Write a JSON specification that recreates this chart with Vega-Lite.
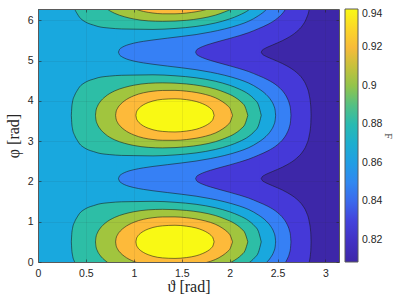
{
"$schema":"https://vega.github.io/schema/vega-lite/v6.json",
"width":301,"height":253,
"autosize":{"type":"none"},
"padding":{"left":38,"top":9,"right":70,"bottom":41},
"background":"white",
"config":{"view":{"fill":"#3D27A8","stroke":null},"font":"Liberation Sans"},
"datasets":{"f":[
{"g":"1r","k":"r","v":0.8273,"t":0,"lo":-0.1,"hi":6.4},{"g":"1r","k":"r","v":0.8273,"t":2.33,"lo":-0.1,"hi":6.4},
{"g":"1a","k":"e","v":0.8273,"t":2.31,"lo":-1.071,"hi":2.071},
{"g":"1a","k":"c","v":0.8273,"t":2.33,"lo":-1.071,"hi":2.071},
{"g":"1a","k":"c","v":0.8273,"t":2.34,"lo":-1.026,"hi":2.026},
{"g":"1a","k":"c","v":0.8273,"t":2.36,"lo":-0.991,"hi":1.991},
{"g":"1a","k":"c","v":0.8273,"t":2.4,"lo":-0.943,"hi":1.943},
{"g":"1a","k":"c","v":0.8273,"t":2.45,"lo":-0.892,"hi":1.892},
{"g":"1a","k":"c","v":0.8273,"t":2.5,"lo":-0.842,"hi":1.842},
{"g":"1a","k":"c","v":0.8273,"t":2.6,"lo":-0.725,"hi":1.725},
{"g":"1a","k":"c","v":0.8273,"t":2.7,"lo":-0.562,"hi":1.562},
{"g":"1a","k":"c","v":0.8273,"t":2.76,"lo":-0.411,"hi":1.411},
{"g":"1a","k":"c","v":0.8273,"t":2.8,"lo":-0.243,"hi":1.243},
{"g":"1a","k":"c","v":0.8273,"t":2.83,"lo":-0.013,"hi":1.013},
{"g":"1a","k":"c","v":0.8273,"t":2.845,"lo":0.228,"hi":0.772},
{"g":"1a","k":"c","v":0.8273,"t":2.848,"lo":0.322,"hi":0.678},
{"g":"1a","k":"c","v":0.8273,"t":2.85,"lo":0.5,"hi":0.5},
{"g":"1b","k":"e","v":0.8273,"t":2.31,"lo":2.071,"hi":5.212},
{"g":"1b","k":"c","v":0.8273,"t":2.33,"lo":2.071,"hi":5.212},
{"g":"1b","k":"c","v":0.8273,"t":2.34,"lo":2.116,"hi":5.167},
{"g":"1b","k":"c","v":0.8273,"t":2.36,"lo":2.151,"hi":5.132},
{"g":"1b","k":"c","v":0.8273,"t":2.4,"lo":2.199,"hi":5.084},
{"g":"1b","k":"c","v":0.8273,"t":2.45,"lo":2.25,"hi":5.033},
{"g":"1b","k":"c","v":0.8273,"t":2.5,"lo":2.3,"hi":4.983},
{"g":"1b","k":"c","v":0.8273,"t":2.6,"lo":2.416,"hi":4.867},
{"g":"1b","k":"c","v":0.8273,"t":2.7,"lo":2.579,"hi":4.704},
{"g":"1b","k":"c","v":0.8273,"t":2.76,"lo":2.731,"hi":4.553},
{"g":"1b","k":"c","v":0.8273,"t":2.8,"lo":2.899,"hi":4.384},
{"g":"1b","k":"c","v":0.8273,"t":2.83,"lo":3.129,"hi":4.155},
{"g":"1b","k":"c","v":0.8273,"t":2.845,"lo":3.369,"hi":3.914},
{"g":"1b","k":"c","v":0.8273,"t":2.848,"lo":3.464,"hi":3.819},
{"g":"1b","k":"c","v":0.8273,"t":2.85,"lo":3.642,"hi":3.642},
{"g":"1c","k":"e","v":0.8273,"t":2.31,"lo":5.212,"hi":8.354},
{"g":"1c","k":"c","v":0.8273,"t":2.33,"lo":5.212,"hi":8.354},
{"g":"1c","k":"c","v":0.8273,"t":2.34,"lo":5.258,"hi":8.309},
{"g":"1c","k":"c","v":0.8273,"t":2.36,"lo":5.292,"hi":8.274},
{"g":"1c","k":"c","v":0.8273,"t":2.4,"lo":5.34,"hi":8.226},
{"g":"1c","k":"c","v":0.8273,"t":2.45,"lo":5.391,"hi":8.175},
{"g":"1c","k":"c","v":0.8273,"t":2.5,"lo":5.442,"hi":8.125},
{"g":"1c","k":"c","v":0.8273,"t":2.6,"lo":5.558,"hi":8.008},
{"g":"1c","k":"c","v":0.8273,"t":2.7,"lo":5.721,"hi":7.846},
{"g":"1c","k":"c","v":0.8273,"t":2.76,"lo":5.872,"hi":7.694},
{"g":"1c","k":"c","v":0.8273,"t":2.8,"lo":6.04,"hi":7.526},
{"g":"1c","k":"c","v":0.8273,"t":2.83,"lo":6.27,"hi":7.296},
{"g":"1c","k":"c","v":0.8273,"t":2.845,"lo":6.511,"hi":7.056},
{"g":"1c","k":"c","v":0.8273,"t":2.848,"lo":6.606,"hi":6.961},
{"g":"1c","k":"c","v":0.8273,"t":2.85,"lo":6.783,"hi":6.783},
{"g":"2r","k":"r","v":0.8461,"t":0,"lo":-0.1,"hi":6.4},{"g":"2r","k":"r","v":0.8461,"t":1.645,"lo":-0.1,"hi":6.4},
{"g":"2a","k":"e","v":0.8461,"t":1.625,"lo":-1.071,"hi":2.071},
{"g":"2a","k":"c","v":0.8461,"t":1.645,"lo":-1.071,"hi":2.071},
{"g":"2a","k":"c","v":0.8461,"t":1.655,"lo":-1.02,"hi":2.02},
{"g":"2a","k":"c","v":0.8461,"t":1.68,"lo":-0.975,"hi":1.975},
{"g":"2a","k":"c","v":0.8461,"t":1.72,"lo":-0.93,"hi":1.93},
{"g":"2a","k":"c","v":0.8461,"t":1.8,"lo":-0.864,"hi":1.864},
{"g":"2a","k":"c","v":0.8461,"t":1.9,"lo":-0.796,"hi":1.796},
{"g":"2a","k":"c","v":0.8461,"t":2.0,"lo":-0.731,"hi":1.731},
{"g":"2a","k":"c","v":0.8461,"t":2.1,"lo":-0.663,"hi":1.663},
{"g":"2a","k":"c","v":0.8461,"t":2.2,"lo":-0.587,"hi":1.587},
{"g":"2a","k":"c","v":0.8461,"t":2.3,"lo":-0.489,"hi":1.489},
{"g":"2a","k":"c","v":0.8461,"t":2.4,"lo":-0.382,"hi":1.382},
{"g":"2a","k":"c","v":0.8461,"t":2.5,"lo":-0.228,"hi":1.228},
{"g":"2a","k":"c","v":0.8461,"t":2.56,"lo":-0.085,"hi":1.085},
{"g":"2a","k":"c","v":0.8461,"t":2.6,"lo":0.067,"hi":0.934},
{"g":"2a","k":"c","v":0.8461,"t":2.625,"lo":0.224,"hi":0.777},
{"g":"2a","k":"c","v":0.8461,"t":2.635,"lo":0.34,"hi":0.66},
{"g":"2a","k":"c","v":0.8461,"t":2.64,"lo":0.5,"hi":0.5},
{"g":"2b","k":"e","v":0.8461,"t":1.625,"lo":2.071,"hi":5.212},
{"g":"2b","k":"c","v":0.8461,"t":1.645,"lo":2.071,"hi":5.212},
{"g":"2b","k":"c","v":0.8461,"t":1.655,"lo":2.122,"hi":5.162},
{"g":"2b","k":"c","v":0.8461,"t":1.68,"lo":2.166,"hi":5.117},
{"g":"2b","k":"c","v":0.8461,"t":1.72,"lo":2.212,"hi":5.072},
{"g":"2b","k":"c","v":0.8461,"t":1.8,"lo":2.278,"hi":5.006},
{"g":"2b","k":"c","v":0.8461,"t":1.9,"lo":2.346,"hi":4.938},
{"g":"2b","k":"c","v":0.8461,"t":2.0,"lo":2.41,"hi":4.873},
{"g":"2b","k":"c","v":0.8461,"t":2.1,"lo":2.479,"hi":4.805},
{"g":"2b","k":"c","v":0.8461,"t":2.2,"lo":2.555,"hi":4.728},
{"g":"2b","k":"c","v":0.8461,"t":2.3,"lo":2.652,"hi":4.631},
{"g":"2b","k":"c","v":0.8461,"t":2.4,"lo":2.76,"hi":4.523},
{"g":"2b","k":"c","v":0.8461,"t":2.5,"lo":2.914,"hi":4.369},
{"g":"2b","k":"c","v":0.8461,"t":2.56,"lo":3.056,"hi":4.227},
{"g":"2b","k":"c","v":0.8461,"t":2.6,"lo":3.208,"hi":4.075},
{"g":"2b","k":"c","v":0.8461,"t":2.625,"lo":3.365,"hi":3.918},
{"g":"2b","k":"c","v":0.8461,"t":2.635,"lo":3.481,"hi":3.802},
{"g":"2b","k":"c","v":0.8461,"t":2.64,"lo":3.642,"hi":3.642},
{"g":"2c","k":"e","v":0.8461,"t":1.625,"lo":5.212,"hi":8.354},
{"g":"2c","k":"c","v":0.8461,"t":1.645,"lo":5.212,"hi":8.354},
{"g":"2c","k":"c","v":0.8461,"t":1.655,"lo":5.263,"hi":8.303},
{"g":"2c","k":"c","v":0.8461,"t":1.68,"lo":5.308,"hi":8.259},
{"g":"2c","k":"c","v":0.8461,"t":1.72,"lo":5.353,"hi":8.213},
{"g":"2c","k":"c","v":0.8461,"t":1.8,"lo":5.419,"hi":8.147},
{"g":"2c","k":"c","v":0.8461,"t":1.9,"lo":5.487,"hi":8.079},
{"g":"2c","k":"c","v":0.8461,"t":2.0,"lo":5.552,"hi":8.015},
{"g":"2c","k":"c","v":0.8461,"t":2.1,"lo":5.62,"hi":7.946},
{"g":"2c","k":"c","v":0.8461,"t":2.2,"lo":5.697,"hi":7.87},
{"g":"2c","k":"c","v":0.8461,"t":2.3,"lo":5.794,"hi":7.773},
{"g":"2c","k":"c","v":0.8461,"t":2.4,"lo":5.902,"hi":7.665},
{"g":"2c","k":"c","v":0.8461,"t":2.5,"lo":6.056,"hi":7.511},
{"g":"2c","k":"c","v":0.8461,"t":2.56,"lo":6.198,"hi":7.369},
{"g":"2c","k":"c","v":0.8461,"t":2.6,"lo":6.35,"hi":7.217},
{"g":"2c","k":"c","v":0.8461,"t":2.625,"lo":6.507,"hi":7.06},
{"g":"2c","k":"c","v":0.8461,"t":2.635,"lo":6.623,"hi":6.943},
{"g":"2c","k":"c","v":0.8461,"t":2.64,"lo":6.783,"hi":6.783},
{"g":"3r","k":"r","v":0.8649,"t":0,"lo":-0.1,"hi":6.4},{"g":"3r","k":"r","v":0.8649,"t":0.84,"lo":-0.1,"hi":6.4},
{"g":"3a","k":"e","v":0.8649,"t":0.82,"lo":-1.071,"hi":2.071},
{"g":"3a","k":"c","v":0.8649,"t":0.84,"lo":-1.071,"hi":2.071},
{"g":"3a","k":"c","v":0.8649,"t":0.85,"lo":-1.009,"hi":2.009},
{"g":"3a","k":"c","v":0.8649,"t":0.87,"lo":-0.965,"hi":1.965},
{"g":"3a","k":"c","v":0.8649,"t":0.9,"lo":-0.924,"hi":1.924},
{"g":"3a","k":"c","v":0.8649,"t":0.95,"lo":-0.88,"hi":1.88},
{"g":"3a","k":"c","v":0.8649,"t":1.0,"lo":-0.849,"hi":1.849},
{"g":"3a","k":"c","v":0.8649,"t":1.1,"lo":-0.804,"hi":1.804},
{"g":"3a","k":"c","v":0.8649,"t":1.2,"lo":-0.769,"hi":1.769},
{"g":"3a","k":"c","v":0.8649,"t":1.35,"lo":-0.725,"hi":1.725},
{"g":"3a","k":"c","v":0.8649,"t":1.5,"lo":-0.682,"hi":1.682},
{"g":"3a","k":"c","v":0.8649,"t":1.65,"lo":-0.635,"hi":1.635},
{"g":"3a","k":"c","v":0.8649,"t":1.8,"lo":-0.573,"hi":1.573},
{"g":"3a","k":"c","v":0.8649,"t":1.95,"lo":-0.494,"hi":1.494},
{"g":"3a","k":"c","v":0.8649,"t":2.1,"lo":-0.392,"hi":1.392},
{"g":"3a","k":"c","v":0.8649,"t":2.2,"lo":-0.302,"hi":1.302},
{"g":"3a","k":"c","v":0.8649,"t":2.3,"lo":-0.168,"hi":1.168},
{"g":"3a","k":"c","v":0.8649,"t":2.38,"lo":-0.021,"hi":1.021},
{"g":"3a","k":"c","v":0.8649,"t":2.43,"lo":0.118,"hi":0.882},
{"g":"3a","k":"c","v":0.8649,"t":2.46,"lo":0.252,"hi":0.748},
{"g":"3a","k":"c","v":0.8649,"t":2.475,"lo":0.374,"hi":0.626},
{"g":"3a","k":"c","v":0.8649,"t":2.48,"lo":0.5,"hi":0.5},
{"g":"3b","k":"e","v":0.8649,"t":0.82,"lo":2.071,"hi":5.212},
{"g":"3b","k":"c","v":0.8649,"t":0.84,"lo":2.071,"hi":5.212},
{"g":"3b","k":"c","v":0.8649,"t":0.85,"lo":2.133,"hi":5.15},
{"g":"3b","k":"c","v":0.8649,"t":0.87,"lo":2.177,"hi":5.106},
{"g":"3b","k":"c","v":0.8649,"t":0.9,"lo":2.217,"hi":5.066},
{"g":"3b","k":"c","v":0.8649,"t":0.95,"lo":2.262,"hi":5.021},
{"g":"3b","k":"c","v":0.8649,"t":1.0,"lo":2.293,"hi":4.99},
{"g":"3b","k":"c","v":0.8649,"t":1.1,"lo":2.338,"hi":4.945},
{"g":"3b","k":"c","v":0.8649,"t":1.2,"lo":2.373,"hi":4.911},
{"g":"3b","k":"c","v":0.8649,"t":1.35,"lo":2.417,"hi":4.866},
{"g":"3b","k":"c","v":0.8649,"t":1.5,"lo":2.46,"hi":4.823},
{"g":"3b","k":"c","v":0.8649,"t":1.65,"lo":2.507,"hi":4.776},
{"g":"3b","k":"c","v":0.8649,"t":1.8,"lo":2.569,"hi":4.714},
{"g":"3b","k":"c","v":0.8649,"t":1.95,"lo":2.647,"hi":4.636},
{"g":"3b","k":"c","v":0.8649,"t":2.1,"lo":2.749,"hi":4.534},
{"g":"3b","k":"c","v":0.8649,"t":2.2,"lo":2.84,"hi":4.443},
{"g":"3b","k":"c","v":0.8649,"t":2.3,"lo":2.974,"hi":4.309},
{"g":"3b","k":"c","v":0.8649,"t":2.38,"lo":3.121,"hi":4.162},
{"g":"3b","k":"c","v":0.8649,"t":2.43,"lo":3.26,"hi":4.023},
{"g":"3b","k":"c","v":0.8649,"t":2.46,"lo":3.394,"hi":3.89},
{"g":"3b","k":"c","v":0.8649,"t":2.475,"lo":3.516,"hi":3.767},
{"g":"3b","k":"c","v":0.8649,"t":2.48,"lo":3.642,"hi":3.642},
{"g":"3c","k":"e","v":0.8649,"t":0.82,"lo":5.212,"hi":8.354},
{"g":"3c","k":"c","v":0.8649,"t":0.84,"lo":5.212,"hi":8.354},
{"g":"3c","k":"c","v":0.8649,"t":0.85,"lo":5.275,"hi":8.292},
{"g":"3c","k":"c","v":0.8649,"t":0.87,"lo":5.319,"hi":8.248},
{"g":"3c","k":"c","v":0.8649,"t":0.9,"lo":5.359,"hi":8.208},
{"g":"3c","k":"c","v":0.8649,"t":0.95,"lo":5.403,"hi":8.163},
{"g":"3c","k":"c","v":0.8649,"t":1.0,"lo":5.435,"hi":8.132},
{"g":"3c","k":"c","v":0.8649,"t":1.1,"lo":5.48,"hi":8.087},
{"g":"3c","k":"c","v":0.8649,"t":1.2,"lo":5.514,"hi":8.052},
{"g":"3c","k":"c","v":0.8649,"t":1.35,"lo":5.559,"hi":8.008},
{"g":"3c","k":"c","v":0.8649,"t":1.5,"lo":5.602,"hi":7.965},
{"g":"3c","k":"c","v":0.8649,"t":1.65,"lo":5.648,"hi":7.918},
{"g":"3c","k":"c","v":0.8649,"t":1.8,"lo":5.711,"hi":7.856},
{"g":"3c","k":"c","v":0.8649,"t":1.95,"lo":5.789,"hi":7.778},
{"g":"3c","k":"c","v":0.8649,"t":2.1,"lo":5.891,"hi":7.676},
{"g":"3c","k":"c","v":0.8649,"t":2.2,"lo":5.981,"hi":7.585},
{"g":"3c","k":"c","v":0.8649,"t":2.3,"lo":6.115,"hi":7.451},
{"g":"3c","k":"c","v":0.8649,"t":2.38,"lo":6.263,"hi":7.304},
{"g":"3c","k":"c","v":0.8649,"t":2.43,"lo":6.402,"hi":7.165},
{"g":"3c","k":"c","v":0.8649,"t":2.46,"lo":6.535,"hi":7.031},
{"g":"3c","k":"c","v":0.8649,"t":2.475,"lo":6.658,"hi":6.909},
{"g":"3c","k":"c","v":0.8649,"t":2.48,"lo":6.783,"hi":6.783},
{"g":"4a","k":"c","v":0.8837,"t":0.348,"lo":0.5,"hi":0.5},
{"g":"4a","k":"c","v":0.8837,"t":0.352,"lo":0.32,"hi":0.68},
{"g":"4a","k":"c","v":0.8837,"t":0.36,"lo":0.17,"hi":0.83},
{"g":"4a","k":"c","v":0.8837,"t":0.383,"lo":0.0,"hi":1.0},
{"g":"4a","k":"c","v":0.8837,"t":0.41,"lo":-0.12,"hi":1.12},
{"g":"4a","k":"c","v":0.8837,"t":0.435,"lo":-0.21,"hi":1.21},
{"g":"4a","k":"c","v":0.8837,"t":0.48,"lo":-0.3,"hi":1.3},
{"g":"4a","k":"c","v":0.8837,"t":0.523,"lo":-0.355,"hi":1.355},
{"g":"4a","k":"c","v":0.8837,"t":0.58,"lo":-0.4,"hi":1.4},
{"g":"4a","k":"c","v":0.8837,"t":0.627,"lo":-0.435,"hi":1.435},
{"g":"4a","k":"c","v":0.8837,"t":0.75,"lo":-0.475,"hi":1.475},
{"g":"4a","k":"c","v":0.8837,"t":0.871,"lo":-0.495,"hi":1.495},
{"g":"4a","k":"c","v":0.8837,"t":1.0,"lo":-0.5,"hi":1.5},
{"g":"4a","k":"c","v":0.8837,"t":1.2,"lo":-0.507,"hi":1.507},
{"g":"4a","k":"c","v":0.8837,"t":1.43,"lo":-0.483,"hi":1.483},
{"g":"4a","k":"c","v":0.8837,"t":1.65,"lo":-0.433,"hi":1.433},
{"g":"4a","k":"c","v":0.8837,"t":1.85,"lo":-0.348,"hi":1.348},
{"g":"4a","k":"c","v":0.8837,"t":2.0,"lo":-0.247,"hi":1.247},
{"g":"4a","k":"c","v":0.8837,"t":2.1,"lo":-0.153,"hi":1.153},
{"g":"4a","k":"c","v":0.8837,"t":2.2,"lo":-0.022,"hi":1.022},
{"g":"4a","k":"c","v":0.8837,"t":2.26,"lo":0.105,"hi":0.895},
{"g":"4a","k":"c","v":0.8837,"t":2.3,"lo":0.237,"hi":0.763},
{"g":"4a","k":"c","v":0.8837,"t":2.33,"lo":0.5,"hi":0.5},
{"g":"4b","k":"c","v":0.8837,"t":0.348,"lo":3.642,"hi":3.642},
{"g":"4b","k":"c","v":0.8837,"t":0.352,"lo":3.462,"hi":3.822},
{"g":"4b","k":"c","v":0.8837,"t":0.36,"lo":3.312,"hi":3.972},
{"g":"4b","k":"c","v":0.8837,"t":0.383,"lo":3.142,"hi":4.142},
{"g":"4b","k":"c","v":0.8837,"t":0.41,"lo":3.022,"hi":4.262},
{"g":"4b","k":"c","v":0.8837,"t":0.435,"lo":2.932,"hi":4.352},
{"g":"4b","k":"c","v":0.8837,"t":0.48,"lo":2.842,"hi":4.442},
{"g":"4b","k":"c","v":0.8837,"t":0.523,"lo":2.787,"hi":4.497},
{"g":"4b","k":"c","v":0.8837,"t":0.58,"lo":2.742,"hi":4.542},
{"g":"4b","k":"c","v":0.8837,"t":0.627,"lo":2.707,"hi":4.577},
{"g":"4b","k":"c","v":0.8837,"t":0.75,"lo":2.667,"hi":4.617},
{"g":"4b","k":"c","v":0.8837,"t":0.871,"lo":2.647,"hi":4.637},
{"g":"4b","k":"c","v":0.8837,"t":1.0,"lo":2.642,"hi":4.642},
{"g":"4b","k":"c","v":0.8837,"t":1.2,"lo":2.635,"hi":4.649},
{"g":"4b","k":"c","v":0.8837,"t":1.43,"lo":2.659,"hi":4.625},
{"g":"4b","k":"c","v":0.8837,"t":1.65,"lo":2.709,"hi":4.575},
{"g":"4b","k":"c","v":0.8837,"t":1.85,"lo":2.794,"hi":4.49},
{"g":"4b","k":"c","v":0.8837,"t":2.0,"lo":2.895,"hi":4.389},
{"g":"4b","k":"c","v":0.8837,"t":2.1,"lo":2.989,"hi":4.295},
{"g":"4b","k":"c","v":0.8837,"t":2.2,"lo":3.12,"hi":4.164},
{"g":"4b","k":"c","v":0.8837,"t":2.26,"lo":3.247,"hi":4.037},
{"g":"4b","k":"c","v":0.8837,"t":2.3,"lo":3.379,"hi":3.905},
{"g":"4b","k":"c","v":0.8837,"t":2.33,"lo":3.642,"hi":3.642},
{"g":"4c","k":"c","v":0.8837,"t":0.348,"lo":6.783,"hi":6.783},
{"g":"4c","k":"c","v":0.8837,"t":0.352,"lo":6.603,"hi":6.963},
{"g":"4c","k":"c","v":0.8837,"t":0.36,"lo":6.453,"hi":7.113},
{"g":"4c","k":"c","v":0.8837,"t":0.383,"lo":6.283,"hi":7.283},
{"g":"4c","k":"c","v":0.8837,"t":0.41,"lo":6.163,"hi":7.403},
{"g":"4c","k":"c","v":0.8837,"t":0.435,"lo":6.073,"hi":7.493},
{"g":"4c","k":"c","v":0.8837,"t":0.48,"lo":5.983,"hi":7.583},
{"g":"4c","k":"c","v":0.8837,"t":0.523,"lo":5.928,"hi":7.638},
{"g":"4c","k":"c","v":0.8837,"t":0.58,"lo":5.883,"hi":7.683},
{"g":"4c","k":"c","v":0.8837,"t":0.627,"lo":5.848,"hi":7.718},
{"g":"4c","k":"c","v":0.8837,"t":0.75,"lo":5.808,"hi":7.758},
{"g":"4c","k":"c","v":0.8837,"t":0.871,"lo":5.788,"hi":7.778},
{"g":"4c","k":"c","v":0.8837,"t":1.0,"lo":5.783,"hi":7.783},
{"g":"4c","k":"c","v":0.8837,"t":1.2,"lo":5.776,"hi":7.79},
{"g":"4c","k":"c","v":0.8837,"t":1.43,"lo":5.8,"hi":7.766},
{"g":"4c","k":"c","v":0.8837,"t":1.65,"lo":5.85,"hi":7.716},
{"g":"4c","k":"c","v":0.8837,"t":1.85,"lo":5.935,"hi":7.631},
{"g":"4c","k":"c","v":0.8837,"t":2.0,"lo":6.036,"hi":7.53},
{"g":"4c","k":"c","v":0.8837,"t":2.1,"lo":6.13,"hi":7.436},
{"g":"4c","k":"c","v":0.8837,"t":2.2,"lo":6.261,"hi":7.305},
{"g":"4c","k":"c","v":0.8837,"t":2.26,"lo":6.388,"hi":7.178},
{"g":"4c","k":"c","v":0.8837,"t":2.3,"lo":6.52,"hi":7.046},
{"g":"4c","k":"c","v":0.8837,"t":2.33,"lo":6.783,"hi":6.783},
{"g":"5a","k":"c","v":0.9024,"t":0.6,"lo":0.5,"hi":0.5},
{"g":"5a","k":"c","v":0.9024,"t":0.605,"lo":0.387,"hi":0.613},
{"g":"5a","k":"c","v":0.9024,"t":0.62,"lo":0.278,"hi":0.722},
{"g":"5a","k":"c","v":0.9024,"t":0.65,"lo":0.16,"hi":0.84},
{"g":"5a","k":"c","v":0.9024,"t":0.7,"lo":0.039,"hi":0.961},
{"g":"5a","k":"c","v":0.9024,"t":0.8,"lo":-0.107,"hi":1.107},
{"g":"5a","k":"c","v":0.9024,"t":0.9,"lo":-0.192,"hi":1.192},
{"g":"5a","k":"c","v":0.9024,"t":1.0,"lo":-0.248,"hi":1.248},
{"g":"5a","k":"c","v":0.9024,"t":1.15,"lo":-0.295,"hi":1.295},
{"g":"5a","k":"c","v":0.9024,"t":1.3,"lo":-0.308,"hi":1.308},
{"g":"5a","k":"c","v":0.9024,"t":1.43,"lo":-0.3,"hi":1.3},
{"g":"5a","k":"c","v":0.9024,"t":1.55,"lo":-0.28,"hi":1.28},
{"g":"5a","k":"c","v":0.9024,"t":1.7,"lo":-0.234,"hi":1.234},
{"g":"5a","k":"c","v":0.9024,"t":1.85,"lo":-0.155,"hi":1.155},
{"g":"5a","k":"c","v":0.9024,"t":1.95,"lo":-0.07,"hi":1.07},
{"g":"5a","k":"c","v":0.9024,"t":2.05,"lo":0.041,"hi":0.959},
{"g":"5a","k":"c","v":0.9024,"t":2.12,"lo":0.168,"hi":0.832},
{"g":"5a","k":"c","v":0.9024,"t":2.16,"lo":0.28,"hi":0.72},
{"g":"5a","k":"c","v":0.9024,"t":2.19,"lo":0.5,"hi":0.5},
{"g":"5b","k":"c","v":0.9024,"t":0.6,"lo":3.642,"hi":3.642},
{"g":"5b","k":"c","v":0.9024,"t":0.605,"lo":3.528,"hi":3.755},
{"g":"5b","k":"c","v":0.9024,"t":0.62,"lo":3.42,"hi":3.864},
{"g":"5b","k":"c","v":0.9024,"t":0.65,"lo":3.302,"hi":3.982},
{"g":"5b","k":"c","v":0.9024,"t":0.7,"lo":3.181,"hi":4.102},
{"g":"5b","k":"c","v":0.9024,"t":0.8,"lo":3.034,"hi":4.249},
{"g":"5b","k":"c","v":0.9024,"t":0.9,"lo":2.95,"hi":4.333},
{"g":"5b","k":"c","v":0.9024,"t":1.0,"lo":2.894,"hi":4.39},
{"g":"5b","k":"c","v":0.9024,"t":1.15,"lo":2.847,"hi":4.437},
{"g":"5b","k":"c","v":0.9024,"t":1.3,"lo":2.834,"hi":4.449},
{"g":"5b","k":"c","v":0.9024,"t":1.43,"lo":2.841,"hi":4.442},
{"g":"5b","k":"c","v":0.9024,"t":1.55,"lo":2.862,"hi":4.422},
{"g":"5b","k":"c","v":0.9024,"t":1.7,"lo":2.908,"hi":4.375},
{"g":"5b","k":"c","v":0.9024,"t":1.85,"lo":2.987,"hi":4.296},
{"g":"5b","k":"c","v":0.9024,"t":1.95,"lo":3.072,"hi":4.212},
{"g":"5b","k":"c","v":0.9024,"t":2.05,"lo":3.183,"hi":4.1},
{"g":"5b","k":"c","v":0.9024,"t":2.12,"lo":3.31,"hi":3.974},
{"g":"5b","k":"c","v":0.9024,"t":2.16,"lo":3.422,"hi":3.862},
{"g":"5b","k":"c","v":0.9024,"t":2.19,"lo":3.642,"hi":3.642},
{"g":"5c","k":"c","v":0.9024,"t":0.6,"lo":6.783,"hi":6.783},
{"g":"5c","k":"c","v":0.9024,"t":0.605,"lo":6.67,"hi":6.896},
{"g":"5c","k":"c","v":0.9024,"t":0.62,"lo":6.561,"hi":7.005},
{"g":"5c","k":"c","v":0.9024,"t":0.65,"lo":6.443,"hi":7.123},
{"g":"5c","k":"c","v":0.9024,"t":0.7,"lo":6.323,"hi":7.244},
{"g":"5c","k":"c","v":0.9024,"t":0.8,"lo":6.176,"hi":7.39},
{"g":"5c","k":"c","v":0.9024,"t":0.9,"lo":6.092,"hi":7.475},
{"g":"5c","k":"c","v":0.9024,"t":1.0,"lo":6.035,"hi":7.531},
{"g":"5c","k":"c","v":0.9024,"t":1.15,"lo":5.988,"hi":7.578},
{"g":"5c","k":"c","v":0.9024,"t":1.3,"lo":5.976,"hi":7.591},
{"g":"5c","k":"c","v":0.9024,"t":1.43,"lo":5.983,"hi":7.583},
{"g":"5c","k":"c","v":0.9024,"t":1.55,"lo":6.003,"hi":7.563},
{"g":"5c","k":"c","v":0.9024,"t":1.7,"lo":6.05,"hi":7.517},
{"g":"5c","k":"c","v":0.9024,"t":1.85,"lo":6.129,"hi":7.438},
{"g":"5c","k":"c","v":0.9024,"t":1.95,"lo":6.213,"hi":7.353},
{"g":"5c","k":"c","v":0.9024,"t":2.05,"lo":6.324,"hi":7.242},
{"g":"5c","k":"c","v":0.9024,"t":2.12,"lo":6.451,"hi":7.115},
{"g":"5c","k":"c","v":0.9024,"t":2.16,"lo":6.563,"hi":7.003},
{"g":"5c","k":"c","v":0.9024,"t":2.19,"lo":6.783,"hi":6.783},
{"g":"6a","k":"c","v":0.9212,"t":0.81,"lo":0.5,"hi":0.5},
{"g":"6a","k":"c","v":0.9212,"t":0.815,"lo":0.413,"hi":0.587},
{"g":"6a","k":"c","v":0.9212,"t":0.83,"lo":0.325,"hi":0.675},
{"g":"6a","k":"c","v":0.9212,"t":0.86,"lo":0.228,"hi":0.772},
{"g":"6a","k":"c","v":0.9212,"t":0.9,"lo":0.145,"hi":0.855},
{"g":"6a","k":"c","v":0.9212,"t":1.0,"lo":0.014,"hi":0.986},
{"g":"6a","k":"c","v":0.9212,"t":1.1,"lo":-0.06,"hi":1.06},
{"g":"6a","k":"c","v":0.9212,"t":1.2,"lo":-0.1,"hi":1.1},
{"g":"6a","k":"c","v":0.9212,"t":1.3,"lo":-0.119,"hi":1.119},
{"g":"6a","k":"c","v":0.9212,"t":1.43,"lo":-0.12,"hi":1.12},
{"g":"6a","k":"c","v":0.9212,"t":1.55,"lo":-0.1,"hi":1.1},
{"g":"6a","k":"c","v":0.9212,"t":1.65,"lo":-0.068,"hi":1.068},
{"g":"6a","k":"c","v":0.9212,"t":1.75,"lo":-0.017,"hi":1.017},
{"g":"6a","k":"c","v":0.9212,"t":1.85,"lo":0.061,"hi":0.939},
{"g":"6a","k":"c","v":0.9212,"t":1.93,"lo":0.167,"hi":0.833},
{"g":"6a","k":"c","v":0.9212,"t":1.98,"lo":0.263,"hi":0.738},
{"g":"6a","k":"c","v":0.9212,"t":2.005,"lo":0.331,"hi":0.669},
{"g":"6a","k":"c","v":0.9212,"t":2.03,"lo":0.5,"hi":0.5},
{"g":"6b","k":"c","v":0.9212,"t":0.81,"lo":3.642,"hi":3.642},
{"g":"6b","k":"c","v":0.9212,"t":0.815,"lo":3.554,"hi":3.729},
{"g":"6b","k":"c","v":0.9212,"t":0.83,"lo":3.467,"hi":3.816},
{"g":"6b","k":"c","v":0.9212,"t":0.86,"lo":3.37,"hi":3.913},
{"g":"6b","k":"c","v":0.9212,"t":0.9,"lo":3.286,"hi":3.997},
{"g":"6b","k":"c","v":0.9212,"t":1.0,"lo":3.156,"hi":4.128},
{"g":"6b","k":"c","v":0.9212,"t":1.1,"lo":3.081,"hi":4.202},
{"g":"6b","k":"c","v":0.9212,"t":1.2,"lo":3.042,"hi":4.241},
{"g":"6b","k":"c","v":0.9212,"t":1.3,"lo":3.023,"hi":4.26},
{"g":"6b","k":"c","v":0.9212,"t":1.43,"lo":3.022,"hi":4.262},
{"g":"6b","k":"c","v":0.9212,"t":1.55,"lo":3.041,"hi":4.242},
{"g":"6b","k":"c","v":0.9212,"t":1.65,"lo":3.074,"hi":4.21},
{"g":"6b","k":"c","v":0.9212,"t":1.75,"lo":3.125,"hi":4.159},
{"g":"6b","k":"c","v":0.9212,"t":1.85,"lo":3.203,"hi":4.08},
{"g":"6b","k":"c","v":0.9212,"t":1.93,"lo":3.309,"hi":3.974},
{"g":"6b","k":"c","v":0.9212,"t":1.98,"lo":3.404,"hi":3.879},
{"g":"6b","k":"c","v":0.9212,"t":2.005,"lo":3.473,"hi":3.81},
{"g":"6b","k":"c","v":0.9212,"t":2.03,"lo":3.642,"hi":3.642},
{"g":"6c","k":"c","v":0.9212,"t":0.81,"lo":6.783,"hi":6.783},
{"g":"6c","k":"c","v":0.9212,"t":0.815,"lo":6.696,"hi":6.87},
{"g":"6c","k":"c","v":0.9212,"t":0.83,"lo":6.609,"hi":6.958},
{"g":"6c","k":"c","v":0.9212,"t":0.86,"lo":6.512,"hi":7.055},
{"g":"6c","k":"c","v":0.9212,"t":0.9,"lo":6.428,"hi":7.139},
{"g":"6c","k":"c","v":0.9212,"t":1.0,"lo":6.297,"hi":7.269},
{"g":"6c","k":"c","v":0.9212,"t":1.1,"lo":6.223,"hi":7.343},
{"g":"6c","k":"c","v":0.9212,"t":1.2,"lo":6.183,"hi":7.383},
{"g":"6c","k":"c","v":0.9212,"t":1.3,"lo":6.164,"hi":7.402},
{"g":"6c","k":"c","v":0.9212,"t":1.43,"lo":6.163,"hi":7.403},
{"g":"6c","k":"c","v":0.9212,"t":1.55,"lo":6.183,"hi":7.384},
{"g":"6c","k":"c","v":0.9212,"t":1.65,"lo":6.215,"hi":7.351},
{"g":"6c","k":"c","v":0.9212,"t":1.75,"lo":6.266,"hi":7.3},
{"g":"6c","k":"c","v":0.9212,"t":1.85,"lo":6.344,"hi":7.222},
{"g":"6c","k":"c","v":0.9212,"t":1.93,"lo":6.451,"hi":7.116},
{"g":"6c","k":"c","v":0.9212,"t":1.98,"lo":6.546,"hi":7.021},
{"g":"6c","k":"c","v":0.9212,"t":2.005,"lo":6.614,"hi":6.952},
{"g":"6c","k":"c","v":0.9212,"t":2.03,"lo":6.783,"hi":6.783},
{"g":"7a","k":"c","v":0.94,"t":1.022,"lo":0.5,"hi":0.5},
{"g":"7a","k":"c","v":0.94,"t":1.027,"lo":0.427,"hi":0.574},
{"g":"7a","k":"c","v":0.94,"t":1.04,"lo":0.364,"hi":0.636},
{"g":"7a","k":"c","v":0.94,"t":1.07,"lo":0.287,"hi":0.713},
{"g":"7a","k":"c","v":0.94,"t":1.1,"lo":0.238,"hi":0.762},
{"g":"7a","k":"c","v":0.94,"t":1.15,"lo":0.182,"hi":0.819},
{"g":"7a","k":"c","v":0.94,"t":1.2,"lo":0.142,"hi":0.858},
{"g":"7a","k":"c","v":0.94,"t":1.3,"lo":0.102,"hi":0.898},
{"g":"7a","k":"c","v":0.94,"t":1.43,"lo":0.089,"hi":0.912},
{"g":"7a","k":"c","v":0.94,"t":1.55,"lo":0.11,"hi":0.89},
{"g":"7a","k":"c","v":0.94,"t":1.65,"lo":0.154,"hi":0.846},
{"g":"7a","k":"c","v":0.94,"t":1.72,"lo":0.212,"hi":0.788},
{"g":"7a","k":"c","v":0.94,"t":1.77,"lo":0.273,"hi":0.727},
{"g":"7a","k":"c","v":0.94,"t":1.81,"lo":0.349,"hi":0.651},
{"g":"7a","k":"c","v":0.94,"t":1.825,"lo":0.395,"hi":0.605},
{"g":"7a","k":"c","v":0.94,"t":1.838,"lo":0.5,"hi":0.5},
{"g":"7b","k":"c","v":0.94,"t":1.022,"lo":3.642,"hi":3.642},
{"g":"7b","k":"c","v":0.94,"t":1.027,"lo":3.568,"hi":3.715},
{"g":"7b","k":"c","v":0.94,"t":1.04,"lo":3.506,"hi":3.777},
{"g":"7b","k":"c","v":0.94,"t":1.07,"lo":3.429,"hi":3.854},
{"g":"7b","k":"c","v":0.94,"t":1.1,"lo":3.379,"hi":3.904},
{"g":"7b","k":"c","v":0.94,"t":1.15,"lo":3.323,"hi":3.96},
{"g":"7b","k":"c","v":0.94,"t":1.2,"lo":3.284,"hi":3.999},
{"g":"7b","k":"c","v":0.94,"t":1.3,"lo":3.243,"hi":4.04},
{"g":"7b","k":"c","v":0.94,"t":1.43,"lo":3.23,"hi":4.053},
{"g":"7b","k":"c","v":0.94,"t":1.55,"lo":3.252,"hi":4.032},
{"g":"7b","k":"c","v":0.94,"t":1.65,"lo":3.296,"hi":3.987},
{"g":"7b","k":"c","v":0.94,"t":1.72,"lo":3.354,"hi":3.929},
{"g":"7b","k":"c","v":0.94,"t":1.77,"lo":3.415,"hi":3.868},
{"g":"7b","k":"c","v":0.94,"t":1.81,"lo":3.491,"hi":3.792},
{"g":"7b","k":"c","v":0.94,"t":1.825,"lo":3.537,"hi":3.747},
{"g":"7b","k":"c","v":0.94,"t":1.838,"lo":3.642,"hi":3.642}
]},
"data":{"name":"f"},
"layer":[
{"mark":{"type":"area","clip":true,"interpolate":"monotone"},
 "encoding":{
  "x":{"field":"t","type":"quantitative","scale":{"domain":[0,3.14159],"nice":false,"zero":false},
    "axis":{"orient":"bottom","values":[0,0.5,1,1.5,2,2.5,3],"format":"~g","title":"ϑ [rad]","titleFont":"Liberation Serif, DejaVu Serif","titleFontSize":16,"titleFontWeight":"normal","titleColor":"#262626","titlePadding":0,"labelFont":"Liberation Sans","labelFontSize":10.5,"labelColor":"#262626","labelPadding":9,"labelFlush":false,"labelOverlap":false,"tickSize":-3,"tickColor":"#262626","tickWidth":0.6,"domainColor":"#5a5a5a","domainWidth":1,"grid":true,"gridColor":"#262626","gridOpacity":0.13,"gridWidth":0.6,"zindex":1}},
  "y":{"field":"lo","type":"quantitative","scale":{"domain":[0,6.28319],"nice":false,"zero":false},
    "axis":{"orient":"left","values":[0,1,2,3,4,5,6],"format":"~g","title":"φ [rad]","titleFont":"Liberation Serif, DejaVu Serif","titleFontSize":16,"titleFontWeight":"normal","titleColor":"#262626","titlePadding":6,"labelFont":"Liberation Sans","labelFontSize":10.5,"labelColor":"#262626","labelPadding":8,"labelFlush":false,"labelOverlap":false,"tickSize":-3,"tickColor":"#262626","tickWidth":0.6,"domainColor":"#5a5a5a","domainWidth":1,"grid":true,"gridColor":"#262626","gridOpacity":0.13,"gridWidth":0.6,"zindex":1}},
  "y2":{"field":"hi"},
  "detail":{"field":"g"},
  "color":{"field":"v","type":"quantitative",
    "scale":{"type":"linear","domain":[0.8085,0.8273,0.8461,0.8649,0.8837,0.9024,0.9212,0.94],"range":["#3D27A8","#4539D8","#3680F5","#19A8DE","#2DBEA6","#A1C53E","#FDBA3A","#F9F914"],"interpolate":"rgb"},
    "legend":{"orient":"right","title":"F","titleOrient":"right","titleAngle":270,"titleAnchor":"middle","titleFont":"Liberation Serif, DejaVu Serif","titleFontSize":10,"titleFontWeight":"normal","titleColor":"#262626","titlePadding":1,"gradientLength":253,"gradientThickness":13,"gradientStrokeColor":"#5a5a5a","gradientStrokeWidth":1,"values":[0.82,0.84,0.86,0.88,0.9,0.92,0.94],"format":"~g","labelFont":"Liberation Sans","labelFontSize":10.5,"labelColor":"#262626","labelOffset":4,"labelBaseline":"middle","labelOverlap":false,"offset":5,"padding":0}}
 }},
{"transform":[{"filter":"datum.k=='c'"}],
 "mark":{"type":"line","clip":true,"interpolate":"monotone","stroke":"#1a1a1a","strokeWidth":0.7,"strokeOpacity":0.8},
 "encoding":{
  "x":{"field":"t","type":"quantitative","scale":{"domain":[0,3.14159],"nice":false,"zero":false},
    "axis":{"orient":"top","values":[0,0.5,1,1.5,2,2.5,3],"labels":false,"title":null,"grid":false,"tickSize":-3,"tickColor":"#262626","tickWidth":0.6,"domainColor":"#5a5a5a","domainWidth":1,"zindex":1}},
  "y":{"field":"hi","type":"quantitative","scale":{"domain":[0,6.28319],"nice":false,"zero":false},
    "axis":{"orient":"right","values":[0,1,2,3,4,5,6],"labels":false,"title":null,"grid":false,"tickSize":-3,"tickColor":"#262626","tickWidth":0.6,"domainColor":"#5a5a5a","domainWidth":1,"zindex":1}},
  "detail":{"field":"g"}
 }},
{"transform":[{"filter":"datum.k=='c'"}],
 "mark":{"type":"line","clip":true,"interpolate":"monotone","stroke":"#1a1a1a","strokeWidth":0.7,"strokeOpacity":0.8},
 "encoding":{
  "x":{"field":"t","type":"quantitative","scale":{"domain":[0,3.14159],"nice":false,"zero":false},"axis":null},
  "y":{"field":"lo","type":"quantitative","scale":{"domain":[0,6.28319],"nice":false,"zero":false},"axis":null},
  "detail":{"field":"g"}
 }}
],
"resolve":{"axis":{"x":"independent","y":"independent"}}
}
